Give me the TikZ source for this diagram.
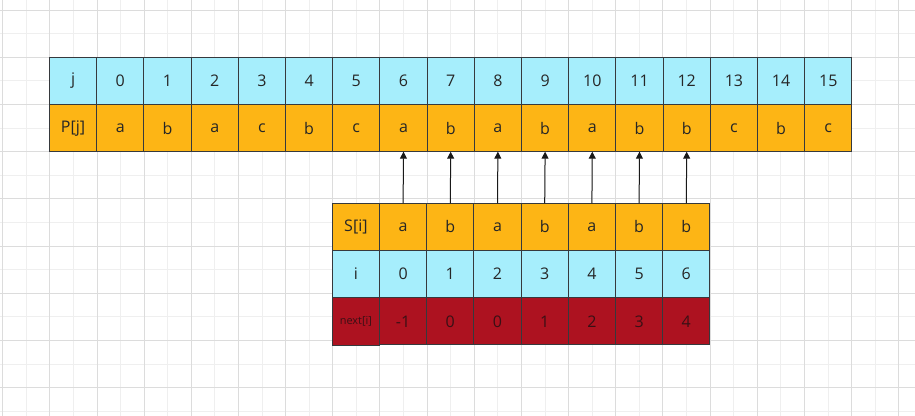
\documentclass[tikz,border=0pt]{standalone}
\usepackage{fontspec}
\setmainfont{Open Sans}
\usetikzlibrary{arrows.meta}
\definecolor{cyanc}{HTML}{A6EEFC}
\definecolor{orangec}{HTML}{FDB515}
\definecolor{redc}{HTML}{AD1220}
\definecolor{edgec}{HTML}{36393D}
\definecolor{minorg}{HTML}{EFEFEF}
\definecolor{majorg}{HTML}{DCDCDC}
\definecolor{redtext}{HTML}{3A1015}
\tikzset{
  cell/.style={draw=edgec, line width=0.75pt, minimum width=35.4pt, minimum height=35.4pt,
    inner sep=0pt, outer sep=0pt, font=\fontsize{12}{14}\selectfont, text=black!85},
  cyancell/.style={cell, fill=cyanc},
  orangecell/.style={cell, fill=orangec},
  redcell/.style={cell, fill=redc, text=redtext},
  arr/.style={draw=black!90, line width=0.75pt, -{Triangle[length=5.2pt,width=5.2pt]}},
  minorline/.style={draw=minorg, line width=0.75pt},
  majorline/.style={draw=majorg, line width=0.75pt}
}
\begin{document}
\begin{tikzpicture}[x=0.75pt,y=-0.75pt]
\useasboundingbox (0,0) rectangle (915,416);
\fill[white] (0,0) rectangle (915,416);
% grid
\foreach \k in {0,...,38}{
  \pgfmathsetmacro{\gx}{2.7+23.58*\k}
  \pgfmathtruncatemacro{\odd}{mod(\k,2)}
  \ifnum\odd=1 \draw[minorline] (\gx,0) -- (\gx,416); \fi
}
\foreach \k in {0,...,17}{
  \pgfmathsetmacro{\gy}{10.1+23.6*\k}
  \pgfmathtruncatemacro{\odd}{mod(\k,2)}
  \ifnum\odd=1 \draw[minorline] (0,\gy) -- (915,\gy); \fi
}
\foreach \k in {0,...,38}{
  \pgfmathsetmacro{\gx}{2.7+23.58*\k}
  \pgfmathtruncatemacro{\odd}{mod(\k,2)}
  \ifnum\odd=0 \draw[majorline] (\gx,0) -- (\gx,416); \fi
}
\foreach \k in {0,...,17}{
  \pgfmathsetmacro{\gy}{10.1+23.6*\k}
  \pgfmathtruncatemacro{\odd}{mod(\k,2)}
  \ifnum\odd=0 \draw[majorline] (0,\gy) -- (915,\gy); \fi
}
% top table
\node[cyancell] (ja0) at (73.1,80.9) {j};
\node[orangecell] (pa0) at (73.1,128.1) {P[j]};
\foreach \t [count=\c] in {a,b,a,c,b,c,a,b,a,b,a,b,b,c,b,c}{
  \pgfmathsetmacro{\cx}{73.1+47.2*\c}
  \pgfmathtruncatemacro{\d}{\c-1}
  \node[cyancell] (ja\c) at (\cx,80.9) {\d};
  \node[orangecell] (pa\c) at (\cx,128.1) {\t};
}
% bottom table
\node[orangecell] (sa0) at (355.9,226.9) {S[i]};
\node[cyancell] (ia0) at (355.9,274.1) {i};
\node[redcell, minimum height=36.2pt] (na0) at (355.9,321.8) {\fontsize{8.2}{10}\selectfont next[i]};
\foreach \t/\n [count=\c] in {a/-1,b/0,a/0,b/1,a/2,b/3,b/4}{
  \pgfmathsetmacro{\cx}{355.9+47.2*\c}
  \pgfmathtruncatemacro{\d}{\c-1}
  \node[orangecell] (sa\c) at (\cx,226.9) {\t};
  \node[cyancell] (ia\c) at (\cx,274.1) {\d};
  \node[redcell] (na\c) at (\cx,321.3) {\n};
}
\draw[edgec, line width=0.75pt] (na0.north east) -- (na0.south east);
% arrows
\foreach \c in {1,...,7}{
  \pgfmathtruncatemacro{\tc}{\c+6}
  \draw[arr] (sa\c.north) -- (pa\tc.south);
}
\end{tikzpicture}
\end{document}
